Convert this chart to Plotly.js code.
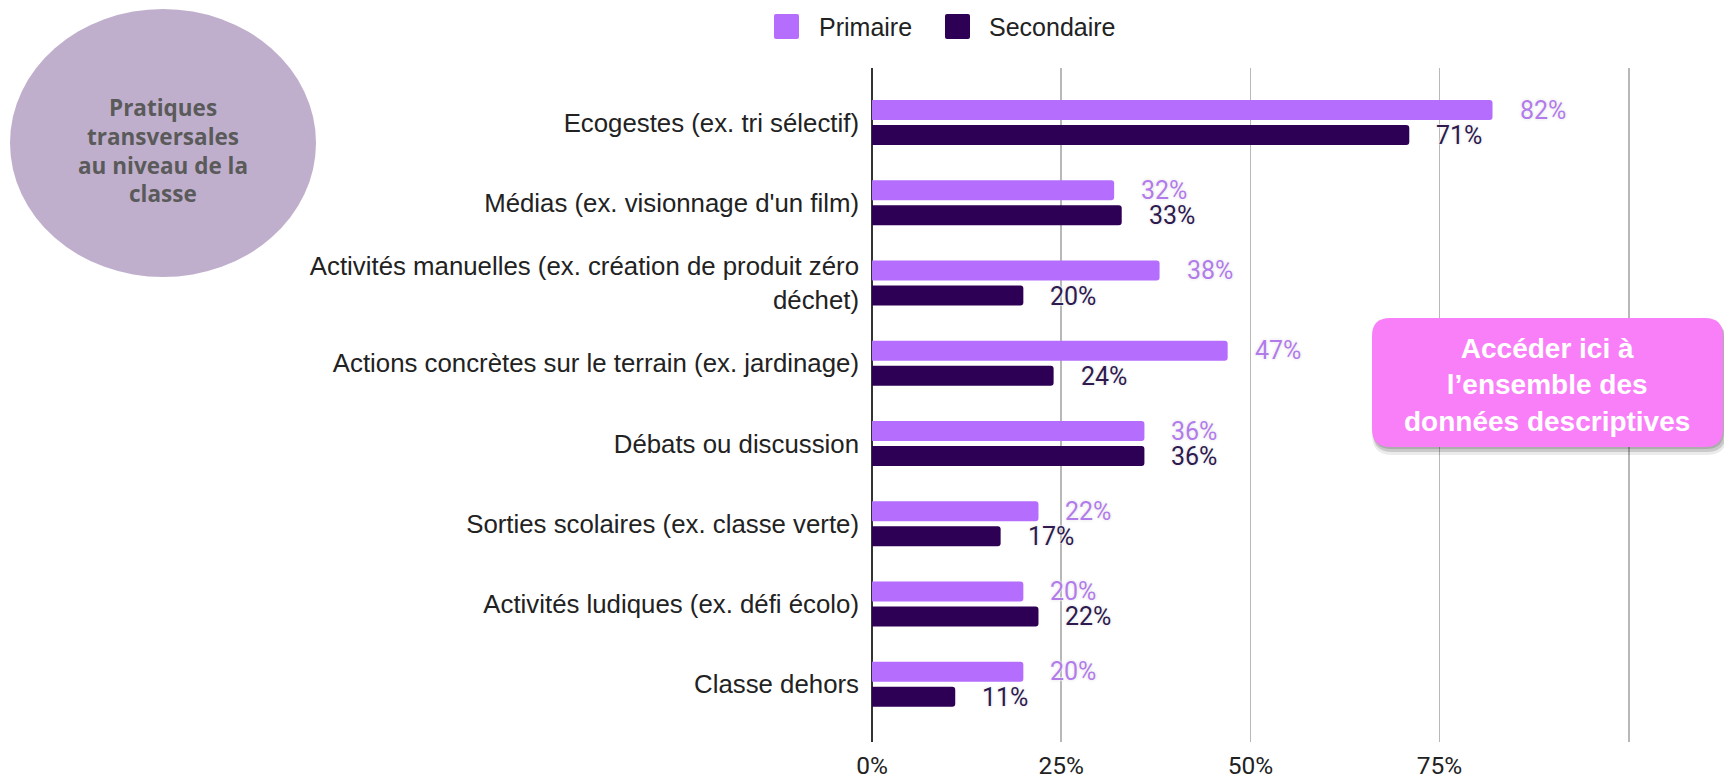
<!DOCTYPE html>
<html>
<head>
<meta charset="utf-8">
<script src="https://cdn.plot.ly/plotly-3.0.1.min.js"></script>
<style>
  html, body { margin: 0; padding: 0; background: #ffffff; }
  #chart { width: 1724px; height: 780px; }
</style>
</head>
<body>
<div id="chart"></div>
<script>
const categories = [
  "Ecogestes (ex. tri sélectif)",
  "Médias (ex. visionnage d'un film)",
  "Activités manuelles (ex. création de produit zéro<br>déchet)",
  "Actions concrètes sur le terrain (ex. jardinage)",
  "Débats ou discussion",
  "Sorties scolaires (ex. classe verte)",
  "Activités ludiques (ex. défi écolo)",
  "Classe dehors"
];
const primaire = [82, 32, 38, 47, 36, 22, 20, 20];
const secondaire = [71, 33, 20, 24, 36, 17, 22, 11];
const seriesNames = ["Primaire", "Secondaire"];
const tickVals = [0, 25, 50, 75, 100];
const tickText = ["0%", "25%", "50%", "75%", ""];
const bubbleLines = ["Pratiques", "transversales", "au niveau de la", "classe"];
const buttonText = "Accéder ici à<br>l’ensemble des<br>données descriptives";

const W = 1724, H = 780;
const M = { l: 872, r: 93, t: 68, b: 38 };
const PW = W - M.l - M.r, PH = H - M.t - M.b;
const px = x => (x - M.l) / PW;
const py = y => (H - M.b - y) / PH;

const colPrim = "#B46DFD", colSec = "#2E0055";
const labPrim = "#B27BEA", labSec = "#2E1A4F";

const traces = [
  { type: "bar", orientation: "h", name: seriesNames[0], y: categories, x: primaire,
    marker: { color: colPrim, cornerradius: 3 }, hoverinfo: "x+y" },
  { type: "bar", orientation: "h", name: seriesNames[1], y: categories, x: secondaire,
    marker: { color: colSec, cornerradius: 3 }, hoverinfo: "x+y" }
];

const annotations = [];
const labelFont = (c) => ({ family: "Roboto, sans-serif", size: 25, color: c,
  shadow: "0 0 2px #ffffff, 0 0 2px #ffffff, 0 0 3px #cccccc" });
categories.forEach((c, i) => {
  annotations.push({ x: primaire[i], y: c, xref: "x", yref: "y", text: primaire[i] + "%",
    showarrow: false, xanchor: "left", yanchor: "middle", xshift: 25, yshift: 12.5,
    font: labelFont(labPrim) });
  annotations.push({ x: secondaire[i], y: c, xref: "x", yref: "y", text: secondaire[i] + "%",
    showarrow: false, xanchor: "left", yanchor: "middle", xshift: 25, yshift: -13,
    font: labelFont(labSec) });
});

// bubble text, one line each
const bubbleY = [107, 136, 165, 193];
bubbleLines.forEach((t, i) => {
  annotations.push({ xref: "paper", yref: "paper", x: px(163), y: py(bubbleY[i]), text: t,
    showarrow: false, xanchor: "center", yanchor: "middle", align: "center",
    font: { family: "'Open Sans', sans-serif", size: 22.5, weight: 700, color: "#5a5a5a" } });
});
// button text
annotations.push({ xref: "paper", yref: "paper", x: px(1547), y: py(385), text: buttonText,
  showarrow: false, xanchor: "center", yanchor: "middle", align: "center",
  font: { family: "Arial, 'Liberation Sans', sans-serif", size: 28, weight: 700, color: "#ffffff" } });
// custom legend text
annotations.push({ xref: "paper", yref: "paper", x: px(817), y: py(27), text: seriesNames[0],
  showarrow: false, xanchor: "left", yanchor: "middle",
  font: { family: "Arial, 'Liberation Sans', sans-serif", size: 25, color: "#222222" } });
annotations.push({ xref: "paper", yref: "paper", x: px(987), y: py(27), text: seriesNames[1],
  showarrow: false, xanchor: "left", yanchor: "middle",
  font: { family: "Arial, 'Liberation Sans', sans-serif", size: 25, color: "#222222" } });

function roundRect(x0, y0, x1, y1, r) {
  const X = v => px(v).toFixed(5), Y = v => py(v).toFixed(5);
  return "M" + X(x0 + r) + "," + Y(y0) +
    " L" + X(x1 - r) + "," + Y(y0) +
    " Q" + X(x1) + "," + Y(y0) + " " + X(x1) + "," + Y(y0 + r) +
    " L" + X(x1) + "," + Y(y1 - r) +
    " Q" + X(x1) + "," + Y(y1) + " " + X(x1 - r) + "," + Y(y1) +
    " L" + X(x0 + r) + "," + Y(y1) +
    " Q" + X(x0) + "," + Y(y1) + " " + X(x0) + "," + Y(y1 - r) +
    " L" + X(x0) + "," + Y(y0 + r) +
    " Q" + X(x0) + "," + Y(y0) + " " + X(x0 + r) + "," + Y(y0) + " Z";
}

const shapes = [
  // bubble
  { type: "circle", xref: "paper", yref: "paper", x0: px(10), x1: px(316), y0: py(277), y1: py(9),
    fillcolor: "#BFAFCC", line: { width: 0 }, layer: "above" },
  // button shadow (soft)
  { type: "path", xref: "paper", yref: "paper", path: roundRect(1372, 323, 1727, 455, 20),
    fillcolor: "rgba(0,0,0,0.08)", line: { width: 0 }, layer: "above" },
  { type: "path", xref: "paper", yref: "paper", path: roundRect(1373, 322, 1726, 452, 19),
    fillcolor: "rgba(0,0,0,0.14)", line: { width: 0 }, layer: "above" },
  { type: "path", xref: "paper", yref: "paper", path: roundRect(1373, 320, 1724, 449, 18),
    fillcolor: "rgba(0,0,0,0.14)", line: { width: 0 }, layer: "above" },
  // button
  { type: "path", xref: "paper", yref: "paper", path: roundRect(1372, 318, 1723, 447, 18),
    fillcolor: "#F97FF9", line: { width: 0 }, layer: "above" },
  // legend squares
  { type: "path", xref: "paper", yref: "paper", path: roundRect(774, 14, 799, 39, 2),
    fillcolor: colPrim, line: { width: 0 } },
  { type: "path", xref: "paper", yref: "paper", path: roundRect(945, 14, 970, 39, 2),
    fillcolor: colSec, line: { width: 0 } }
];

const layout = {
  width: W, height: H,
  margin: M,
  paper_bgcolor: "#ffffff", plot_bgcolor: "#ffffff",
  showlegend: false,
  barmode: "group", bargap: 0.377, bargroupgap: 0.2,
  xaxis: {
    range: [0, 100.3], tickvals: tickVals, ticktext: tickText,
    showgrid: true, gridcolor: "#b8b8b8", gridwidth: 1.6,
    zeroline: true, zerolinecolor: "#333333", zerolinewidth: 1.6,
    showline: false, ticks: "", ticklabelstandoff: 6,
    tickfont: { family: "Roboto, sans-serif", size: 24.5, color: "#222222" },
    fixedrange: true
  },
  yaxis: {
    type: "category", categoryorder: "array", categoryarray: categories,
    range: [7.72, -0.68], showgrid: false, zeroline: false, showline: false,
    ticks: "", ticklabelstandoff: 12,
    tickfont: { family: "Arial, 'Liberation Sans', sans-serif", size: 25.8, color: "#222222" },
    fixedrange: true
  },
  annotations: annotations,
  shapes: shapes
};

Plotly.newPlot("chart", traces, layout, { displayModeBar: false, staticPlot: true });
</script>
</body>
</html>
